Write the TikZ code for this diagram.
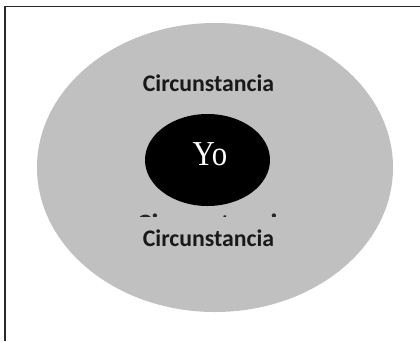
\documentclass[tikz,border=0pt]{standalone}
\usepackage{fontspec}
\setmainfont{Liberation Serif}
\newfontfamily\lblfont{Carlito}
\definecolor{outergray}{RGB}{192,192,192}
\definecolor{framegray}{RGB}{40,40,40}
\begin{document}
\begin{tikzpicture}[x=1pt,y=-1pt,
  lbl/.style={anchor=base,inner sep=0pt,font=\lblfont\bfseries\fontsize{23.8}{26}\selectfont,text=black!90},
  bigl/.style={anchor=base,inner sep=0pt,font=\lblfont\bfseries\fontsize{28}{30}\selectfont,text=black!85},
  yo/.style={anchor=base,inner sep=0pt,font=\fontsize{35}{40}\selectfont,text=white}]
\useasboundingbox (0,0) rectangle (420,341);
\fill[white] (0,0) rectangle (420,341);
\draw[framegray,line width=1.4pt] (5,341) -- (5,6.5) -- (420,6.5);
\fill[outergray] (215,167.5) ellipse [x radius=178, y radius=144.5];
\fill[black] (207.5,160) ellipse [x radius=62.5, y radius=46];
\node[yo] (yo) at (210,165.7) {\scalebox{0.88}[1]{Yo}};
\node[lbl] (top) at (208.5,91) {Circunstancia};
\node[lbl] (bot) at (208.5,246.7) {Circunstancia};
\begin{scope}
\clip (120,212) rectangle (310,216.5);
\node[bigl] (hidden) at (214,233.5) {Circunstancia};
\end{scope}
\end{tikzpicture}
\end{document}
